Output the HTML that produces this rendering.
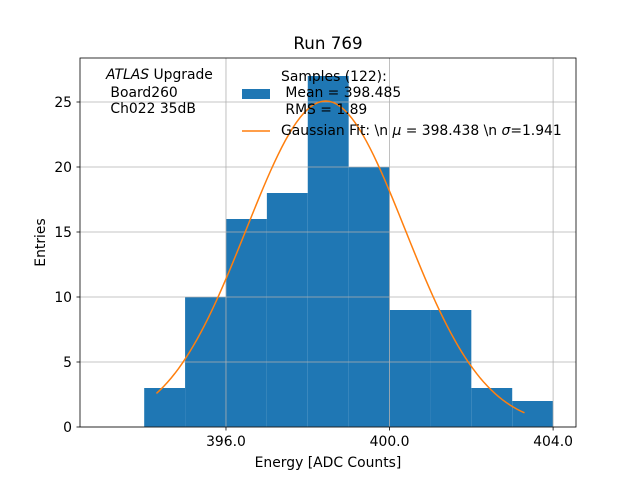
<!DOCTYPE html>
<html><head><meta charset="utf-8"><style>
body{margin:0;background:#fff}
svg text{font-family:"DejaVu Sans","Liberation Sans",sans-serif;fill:#000;white-space:pre}
</style></head><body>
<svg width="640" height="480" xmlns="http://www.w3.org/2000/svg" xml:space="preserve">
<rect width="640" height="480" fill="#fff"/>
<g id="bars"></g>
<g id="grid"></g>
<path id="fit" fill="none" stroke="#ff7f0e" stroke-width="1.5"/>
<rect x="80" y="58" width="496" height="369" fill="none" stroke="#000" stroke-width="0.8"/>
<g id="ticks"></g>
<text x="328" y="49" font-size="16.7" text-anchor="middle">Run 769</text>
<text x="328" y="467" font-size="13.9" text-anchor="middle">Energy [ADC Counts]</text>
<text transform="translate(45,242.5) rotate(-90)" font-size="13.9" text-anchor="middle">Entries</text>
<g font-size="13.9">
<text x="106" y="79"><tspan font-style="italic">ATLAS</tspan> Upgrade</text>
<text x="106" y="97"> Board260</text>
<text x="106" y="113"> Ch022 35dB</text>
</g>
<g font-size="13.9">
<rect x="242" y="89" width="28" height="10" fill="#1f77b4"/>
<text x="281" y="81">Samples (122):</text>
<text x="281" y="97"> Mean = 398.485</text>
<text x="281" y="114"> RMS = 1.89</text>
<line x1="242" y1="131" x2="270" y2="131" stroke="#ff7f0e" stroke-width="1.5"/>
<text x="281" y="135">Gaussian Fit: \n <tspan font-style="italic">μ</tspan> = 398.438 \n <tspan font-style="italic">σ</tspan>=1.941</text>
</g>
</svg>
<script>
const binEdges=[394,395,396,397,398,399,400,401,402,403,404];
const counts=[3,10,16,18,27,20,9,9,3,2];
const xTicks=[396,400,404];
const xTickLabels=["396.0","400.0","404.0"];
const yTicks=[0,5,10,15,20,25];
const fitMean=398.438, fitSigma=1.941, fitN=122;
const fitRange=[394.3,403.3];
const NS='http://www.w3.org/2000/svg';
const X=v=>80+(v-392.43)*(496/(404.56-392.43));
const Y=v=>427-v*13;
const mk=(t,a)=>{const e=document.createElementNS(NS,t);for(const k in a)e.setAttribute(k,a[k]);return e;};
const bars=document.getElementById('bars');
counts.forEach((c,i)=>{
 const r=mk('rect',{x:X(binEdges[i]),y:Y(c),width:X(binEdges[i+1])-X(binEdges[i]),height:Y(0)-Y(c),fill:'#1f77b4'});
 
 
 bars.appendChild(r);
});
const grid=document.getElementById('grid'),ticks=document.getElementById('ticks');
xTicks.forEach((t,i)=>{
 const x=X(t);
 const g=mk('line',{x1:x,x2:x,y1:58,y2:427,stroke:'#b0b0b0','stroke-width':0.8});
 
 
 grid.appendChild(g);
 ticks.appendChild(mk('line',{x1:x,x2:x,y1:427,y2:430.5,stroke:'#000','stroke-width':0.8}));
 const tx=mk('text',{x:x,y:446,'font-size':13.9,'text-anchor':'middle'});
 tx.textContent=xTickLabels[i];
 
 
 ticks.appendChild(tx);
});
yTicks.forEach(t=>{
 const y=Y(t);
 const g=mk('line',{x1:80,x2:576,y1:y,y2:y,stroke:'#b0b0b0','stroke-width':0.8});
 
 
 grid.appendChild(g);
 ticks.appendChild(mk('line',{x1:76.5,x2:80,y1:y,y2:y,stroke:'#000','stroke-width':0.8}));
 const tx=mk('text',{x:72,y:y+5,'font-size':13.9,'text-anchor':'end'});
 tx.textContent=t;
 
 
 ticks.appendChild(tx);
});
const A=fitN/(fitSigma*Math.sqrt(2*Math.PI));
let d='';
for(let i=0;i<=100;i++){
 const v=fitRange[0]+(fitRange[1]-fitRange[0])*i/100;
 const f=A*Math.exp(-0.5*((v-fitMean)/fitSigma)**2);
 d+=(i?'L':'M')+X(v).toFixed(2)+','+Y(f).toFixed(2);
}
document.getElementById('fit').setAttribute('d',d);
</script>
</body></html>
